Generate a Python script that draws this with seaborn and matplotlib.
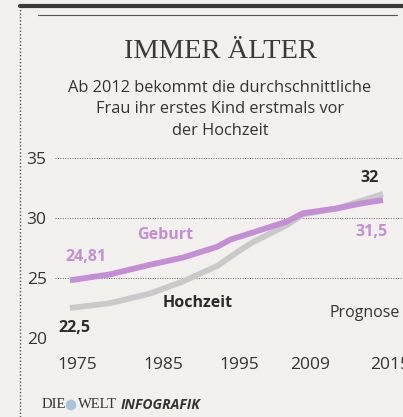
import numpy as np
import pandas as pd
import matplotlib.pyplot as plt
import seaborn as sns
from matplotlib.lines import Line2D
from matplotlib.patches import Circle

# x = position along the (non-linear) year axis, 0 = 1975 ... 4 = 2015
tick_labels = ["1975", "1985", "1995", "2009", "2015"]
tick_pos = [0, 1.1, 2.08, 2.98, 4]

geburt_x = [-0.09, 0.42, 0.93, 1.35, 1.79, 1.96, 2.25, 2.68, 2.89, 3.32, 3.62, 3.91]
geburt_y = [24.81, 25.3, 26.1, 26.7, 27.6, 28.2, 28.8, 29.7, 30.4, 30.8, 31.2, 31.5]

hochzeit_x = [-0.09, 0.42, 0.93, 1.35, 1.79, 2.08, 2.25, 2.68, 2.89, 3.32, 3.62, 3.91]
hochzeit_y = [22.5, 22.9, 23.7, 24.7, 26.0, 27.3, 28.0, 29.4, 30.3, 30.8, 31.4, 32.0]

y_ticks = [20, 25, 30, 35]

PURPLE = "#c48ed4"
GREY = "#c9c9c9"
DARK = "#2b2b2b"
PAPER = "#f1f0ed"

df = pd.concat([
    pd.DataFrame({"pos": geburt_x, "alter": geburt_y, "serie": "Geburt"}),
    pd.DataFrame({"pos": hochzeit_x, "alter": hochzeit_y, "serie": "Hochzeit"}),
])

sns.set_theme(style="white")
plt.rcParams["font.family"] = ["Open Sans", "DejaVu Sans"]

fig = plt.figure(figsize=(4.03, 4.17), dpi=100, facecolor=PAPER)
ax = fig.add_axes([0.1365, 0.1894, 0.8635, 0.4317])
ax.set_facecolor(PAPER)

sns.lineplot(data=df[df.serie == "Hochzeit"], x="pos", y="alter", ax=ax,
             color=GREY, linewidth=4.2, solid_capstyle="butt", zorder=3)
sns.lineplot(data=df[df.serie == "Geburt"], x="pos", y="alter", ax=ax,
             color=PURPLE, linewidth=4.2, solid_capstyle="butt", zorder=4)

ax.set_xlim(-0.281, 4.166)
ax.set_ylim(20, 35)
for v in y_ticks:
    ax.axhline(v, color="#666666", linestyle=(0, (1, 1.5)), linewidth=0.7, zorder=1)
ax.set_yticks(y_ticks)
ax.set_xticks(tick_pos)
ax.set_xticklabels(tick_labels)
ax.tick_params(axis="x", length=0, pad=14, labelsize=12.5, labelcolor="#333333")
ax.tick_params(axis="y", length=0, pad=6, labelsize=12.5, labelcolor="#333333")
ax.set_xlabel("")
ax.set_ylabel("")
for s in ax.spines.values():
    s.set_visible(False)
if ax.get_legend():
    ax.get_legend().remove()

# annotations
ax.text(-0.15, 26.75, "24,81", color=PURPLE, fontsize=11.5, fontweight="bold", va="center", ha="left")
ax.text(0.77, 28.6, "Geburt", color=PURPLE, fontsize=11.5, fontweight="bold", va="center", ha="left")
ax.text(3.74, 33.3, "32", color=DARK, fontsize=11.5, fontweight="bold", va="center", ha="center")
ax.text(3.76, 28.8, "31,5", color=PURPLE, fontsize=11.5, fontweight="bold", va="center", ha="center")
ax.text(1.10, 22.9, "Hochzeit", color=DARK, fontsize=11.5, fontweight="bold", va="center", ha="left")
ax.text(4.13, 22.1, "Prognose", color="#333333", fontsize=11.5, va="center", ha="right")
ax.text(-0.24, 20.8, "22,5", color=DARK, fontsize=11.5, fontweight="bold", va="center", ha="left", zorder=5)

# title and subtitle
fig.text(0.546, 1 - 52 / 417, "IMMER ÄLTER", family="Liberation Serif", fontsize=20.5,
         color="#3a3a3a", ha="center", va="center")
for i, line in enumerate(["Ab 2012 bekommt die durchschnittliche",
                          "Frau ihr erstes Kind erstmals vor",
                          "der Hochzeit"]):
    fig.text(0.546, 1 - (88 + i * 21.5) / 417, line, fontsize=11.8, color="#333333",
             ha="center", va="center")

# frame decorations
fig.add_artist(Line2D([20 / 403, 1], [1 - 6 / 417] * 2, color="#3a3a3a", linewidth=3))
fig.add_artist(Line2D([38 / 403, 397 / 403], [1 - 15 / 417] * 2, color="#555555", linewidth=0.8))
fig.add_artist(Line2D([20 / 403] * 2, [0, 1 - 8 / 417], color="#555555",
                      linewidth=1, linestyle=(0, (1, 1.5))))

# footer
fig.text(42 / 403, 1 - 405 / 417, "DIE", family="Liberation Serif", fontsize=10.5,
         color="#333333", ha="left", va="center")
fig.add_artist(Circle((71 / 403, 1 - 405 / 417), 0.013, transform=fig.transFigure,
                      facecolor="#a8c4dc", edgecolor="none"))
fig.text(78 / 403, 1 - 405 / 417, "WELT", family="Liberation Serif", fontsize=10.5,
         color="#333333", ha="left", va="center")
fig.text(121 / 403, 1 - 405 / 417, "INFOGRAFIK", fontsize=10, fontweight="bold",
         fontstyle="italic", color="#333333", ha="left", va="center")

fig.savefig("out.png", dpi=100, facecolor=PAPER)
